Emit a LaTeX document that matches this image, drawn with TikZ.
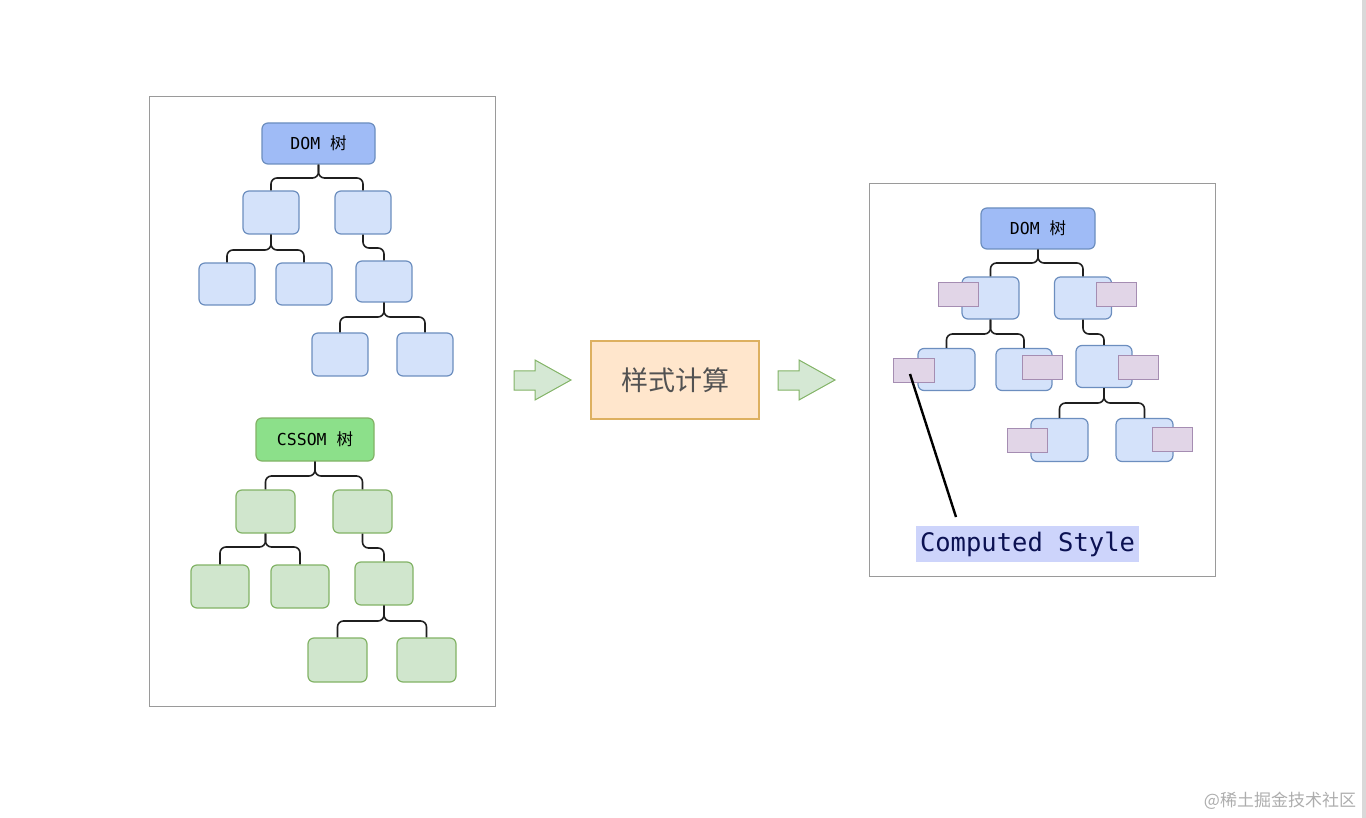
\documentclass[tikz,border=0pt]{standalone}
\usepackage{fontspec}
\setmonofont{DejaVu Sans Mono}
\newfontfamily\cjk{Noto Sans CJK SC}
\definecolor{panelgray}{HTML}{9A9A9A}
\definecolor{domroot}{HTML}{9FBBF6}
\definecolor{domfill}{HTML}{D4E2FA}
\definecolor{domline}{HTML}{6C8EBF}
\definecolor{cssroot}{HTML}{8CE08A}
\definecolor{cssfill}{HTML}{D0E6CD}
\definecolor{cssline}{HTML}{82B366}
\definecolor{purfill}{HTML}{E1D5E7}
\definecolor{purline}{HTML}{A58DB2}
\definecolor{midfill}{HTML}{FFE6CC}
\definecolor{midline}{HTML}{DDB060}
\definecolor{arrfill}{HTML}{D5E8D4}
\definecolor{hlfill}{HTML}{CDD4FB}
\definecolor{hltext}{HTML}{0B1152}
\newcommand\tedge[3]{\draw[conn] (#1.south) -- (#1.south |- 0,#3) -| (#2.north);}
\tikzset{
  panel/.style={draw=panelgray, line width=1pt, fill=white, inner sep=0pt},
  bx/.style 2 args={minimum width=#1, minimum height=#2, inner sep=0pt, rounded corners=6pt, line width=1.2pt},
  dombox/.style={draw=domline, fill=domfill},
  domrootbox/.style={draw=domline, fill=domroot},
  cssbox/.style={draw=cssline, fill=cssfill},
  cssrootbox/.style={draw=cssline, fill=cssroot},
  purbox/.style={draw=purline, fill=purfill, line width=1pt, minimum width=40, minimum height=24, inner sep=0pt},
  conn/.style={draw=black!88, line width=1.6pt, rounded corners=6pt},
  lbl/.style={font=\fontsize{16.5}{19}\selectfont},
  barrow/.style={draw=cssline, fill=arrfill, line width=1pt, line join=miter}
}
\begin{document}
\begin{tikzpicture}[x=1pt,y=-1pt]
\path[use as bounding box] (0,0) rectangle (1366,818);
\fill[black!15] (1362,0) rectangle (1366,818);
% panels
\node[panel, minimum width=346, minimum height=609] (lp) at (322,401.5) {};
\node[panel, minimum width=346, minimum height=392] (rp) at (1042,380) {};
% left DOM tree
\node[domrootbox, bx={113}{41}, lbl] (d0) at (318.5,143.5) {\ttfamily DOM {\cjk 树}};
\node[dombox, bx={56}{43}] (d1) at (271,212.5) {};
\node[dombox, bx={56}{43}] (d2) at (363,212.5) {};
\node[dombox, bx={56}{42}] (d3) at (227,284) {};
\node[dombox, bx={56}{42}] (d4) at (304,284) {};
\node[dombox, bx={56}{41}] (d5) at (384,281.5) {};
\node[dombox, bx={56}{43}] (d6) at (340,354.5) {};
\node[dombox, bx={56}{43}] (d7) at (425,354.5) {};
\tedge{d0}{d1}{178}
\tedge{d0}{d2}{178}
\tedge{d1}{d3}{250}
\tedge{d1}{d4}{250}
\tedge{d2}{d5}{248}
\tedge{d5}{d6}{317}
\tedge{d5}{d7}{317}
% CSSOM tree
\node[cssrootbox, bx={118}{43}, lbl] (c0) at (315,439.5) {\ttfamily CSSOM {\cjk 树}};
\node[cssbox, bx={59}{43}] (c1) at (265.5,511.5) {};
\node[cssbox, bx={59}{43}] (c2) at (362.5,511.5) {};
\node[cssbox, bx={58}{43}] (c3) at (220,586.5) {};
\node[cssbox, bx={58}{43}] (c4) at (300,586.5) {};
\node[cssbox, bx={58}{43}] (c5) at (384,583.5) {};
\node[cssbox, bx={59}{44}] (c6) at (337.5,660) {};
\node[cssbox, bx={59}{44}] (c7) at (426.5,660) {};
\tedge{c0}{c1}{476}
\tedge{c0}{c2}{476}
\tedge{c1}{c3}{547}
\tedge{c1}{c4}{547}
\tedge{c2}{c5}{548}
\tedge{c5}{c6}{621}
\tedge{c5}{c7}{621}
% arrows and middle box
\draw[barrow] (514,371) -- (535,371) -- (535,360) -- (571,380) -- (535,400) -- (535,390) -- (514,390) -- cycle;
\node[draw=midline, fill=midfill, line width=1.2pt, minimum width=168, minimum height=78, inner sep=0pt, text=black!68, font=\cjk\fontsize{27}{32}\selectfont] (mid) at (675,380) {样式计算};
\draw[barrow] (778,371) -- (799,371) -- (799,360) -- (835,380) -- (799,400) -- (799,390) -- (778,390) -- cycle;
% right DOM tree
\node[domrootbox, bx={114}{41}, lbl] (r0) at (1038,228.5) {\ttfamily DOM {\cjk 树}};
\node[dombox, bx={57}{42}] (r1) at (990.5,298) {};
\node[dombox, bx={57}{42}] (r2) at (1083,298) {};
\node[dombox, bx={57}{42}] (r3) at (946.5,369.5) {};
\node[dombox, bx={56}{42}] (r4) at (1024,369.5) {};
\node[dombox, bx={56}{42}] (r5) at (1104,366.5) {};
\node[dombox, bx={57}{43}] (r6) at (1059.5,440) {};
\node[dombox, bx={57}{43}] (r7) at (1144.5,440) {};
\tedge{r0}{r1}{263}
\tedge{r0}{r2}{263}
\tedge{r1}{r3}{334}
\tedge{r1}{r4}{334}
\tedge{r2}{r5}{334}
\tedge{r5}{r6}{403}
\tedge{r5}{r7}{403}
\node[purbox] (p1) at (958,295) {};
\node[purbox] (p2) at (1116,295) {};
\node[purbox, minimum width=41] (p3) at (913.5,371) {};
\node[purbox] (p4) at (1042,367.5) {};
\node[purbox] (p5) at (1138,367.5) {};
\node[purbox] (p6) at (1027,440.5) {};
\node[purbox] (p7) at (1172,439) {};
% label
\node[fill=hlfill, text=hltext, minimum width=223, minimum height=36, inner sep=0pt, font=\ttfamily\fontsize{25.5}{30}\selectfont] (cs) at (1027.5,544) {Computed Style};
\coordinate (ls) at (910,374);
\coordinate (lt) at (956,517);
\draw[line width=2.4pt] (ls) -- (lt);
% watermark
\node[text=black!32, font=\cjk\fontsize{17}{20}\selectfont, inner sep=0pt] (wm) at (1280,801) {@稀土掘金技术社区};
\end{tikzpicture}
\end{document}
